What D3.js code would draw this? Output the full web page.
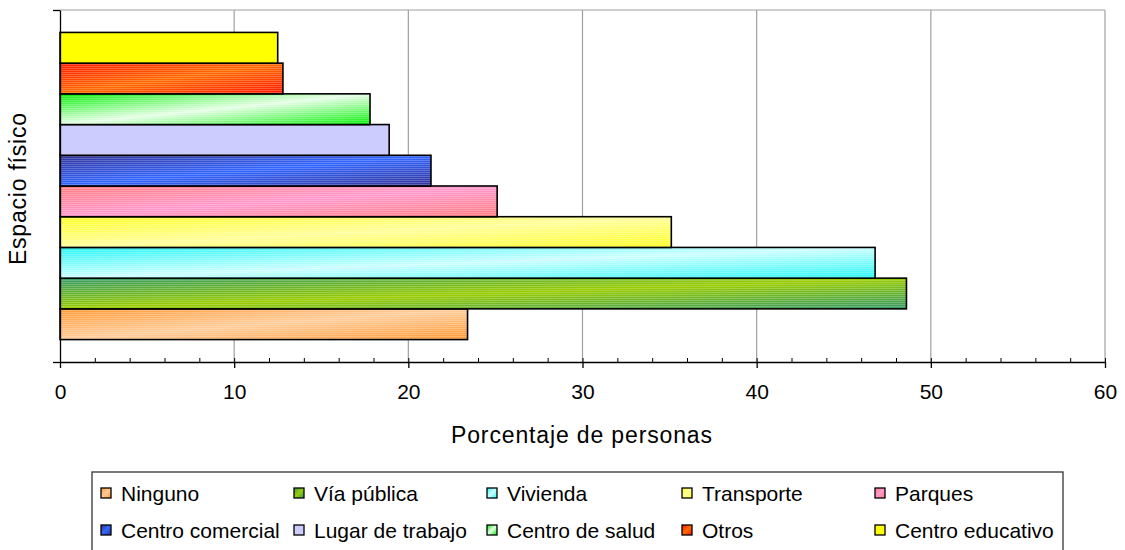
<!DOCTYPE html>
<html>
<head>
<meta charset="utf-8">
<script src="https://cdn.jsdelivr.net/npm/d3@7/dist/d3.min.js"></script>
<style>
  body { margin: 0; background: #fff; }
  text { font-family: "Liberation Sans", Arial, sans-serif; fill: #000; }
  .axis path, .axis line { stroke: #000; }
</style>
</head>
<body>
<div id="ChartContainer"></div>
<script>
// Series, bottom to top
var series = ["Ninguno", "Vía pública", "Vivienda", "Transporte", "Parques",
  "Centro comercial", "Lugar de trabajo", "Centro de salud", "Otros", "Centro educativo"]
var values = [23.4, 48.6, 46.8, 35.1, 25.1, 21.3, 18.9, 17.8, 12.8, 12.5]
var xTicks = [0, 10, 20, 30, 40, 50, 60]
var xMinorTicks = d3.range(0, 61, 2)

// fill colours: [edge, centre] of the diagonal gradient
var fills = [
  ["#FF9933", "#FFCC99"],
  ["#339966", "#99CC00"],
  ["#22F5F5", "#CCFFFF"],
  ["#FFFF22", "#FFFF99"],
  ["#FF7C80", "#FF99CC"],
  ["#333399", "#3366FF"],
  ["#CCCCFF", "#CCCCFF"],
  ["#00F000", "#E6FFE6"],
  ["#FF1A00", "#FF6A00"],
  ["#FFFF00", "#FFFF00"],
]
var striped = [true, true, true, true, true, true, false, true, true, false]

var fullWidth = 1125
var fullHeight = 550
var margin = { top: 10, right: 20, bottom: 188, left: 60 }
var width = fullWidth - margin.left - margin.right
var height = fullHeight - margin.top - margin.bottom

var svg = d3.select("#ChartContainer").append("svg")
  .attr("width", fullWidth)
  .attr("height", fullHeight)

var defs = svg.append("defs")

fills.forEach(function (f, i) {
  var grad = defs.append("linearGradient")
    .attr("id", "grad" + i)
    .attr("x1", 0).attr("y1", 0)
    .attr("x2", 1).attr("y2", 1)
  grad.append("stop").attr("offset", "0%").attr("stop-color", f[0])
  grad.append("stop").attr("offset", "50%").attr("stop-color", f[1])
  grad.append("stop").attr("offset", "100%").attr("stop-color", f[0])
})

// fine horizontal stripes
var stripes = defs.append("pattern")
  .attr("id", "stripes")
  .attr("patternUnits", "userSpaceOnUse")
  .attr("width", 8)
  .attr("height", 2)
stripes.append("rect")
  .attr("width", 8)
  .attr("height", 1)
  .attr("fill", "#fff")
  .attr("opacity", 0.22)

var x = d3.scaleLinear()
  .domain([0, 60])
  .range([0, width])

var y = d3.scaleBand()
  .domain(series)
  .range([height, 0])
  .paddingInner(0)
  .paddingOuter(0.73)

var g = svg.append("g")
  .attr("transform", `translate(${margin.left},${margin.top})`)

// gridlines and frame
g.selectAll(".Grid")
  .data(xTicks.slice(1))
  .enter().append("line")
  .attr("class", "Grid")
  .attr("x1", d => x(d))
  .attr("x2", d => x(d))
  .attr("y1", 0)
  .attr("y2", height)
  .attr("stroke", "#a0a0a0")
  .attr("stroke-width", 1.2)
g.append("line")
  .attr("x1", 0)
  .attr("x2", width)
  .attr("y1", 0)
  .attr("y2", 0)
  .attr("stroke", "#a0a0a0")
  .attr("stroke-width", 1.2)

// bars
var bars = g.selectAll(".Bar")
  .data(series)
  .enter().append("g")
  .attr("class", "Bar")

bars.append("rect")
  .attr("x", 0)
  .attr("y", d => y(d))
  .attr("width", (d, i) => x(values[i]))
  .attr("height", y.bandwidth())
  .attr("fill", (d, i) => "url(#grad" + i + ")")

bars.filter((d, i) => striped[i]).append("rect")
  .attr("x", 0)
  .attr("y", d => y(d))
  .attr("width", d => x(values[series.indexOf(d)]))
  .attr("height", y.bandwidth())
  .attr("fill", "url(#stripes)")

bars.append("rect")
  .attr("x", 0)
  .attr("y", d => y(d))
  .attr("width", (d, i) => x(values[i]))
  .attr("height", y.bandwidth())
  .attr("fill", "none")
  .attr("stroke", "#000")
  .attr("stroke-width", 1.6)

// x-axis minor ticks (pointing up)
g.append("g")
  .attr("class", "axis")
  .attr("transform", "translate(0," + height + ")")
  .call(d3.axisBottom(x)
    .tickValues(xMinorTicks)
    .tickSize(-4)
    .tickSizeOuter(0)
    .tickFormat("")
  )

// x-axis
var xAxis = g.append("g")
  .attr("class", "axis")
  .attr("transform", "translate(0," + height + ")")
  .call(d3.axisBottom(x)
    .tickValues(xTicks)
    .tickSize(6)
    .tickSizeOuter(0)
    .tickPadding(16)
  )
xAxis.selectAll("path, line").attr("stroke-width", 1.3)
xAxis.selectAll("text")
  .attr("font-size", "21px")
  .attr("font-family", "'Liberation Sans', Arial, sans-serif")

// y-axis (category axis, no labels)
var yAxis = g.append("g")
  .attr("class", "axis")
  .call(d3.axisLeft(d3.scaleLinear().domain([0, 1]).range([height, 0]))
    .tickValues([0, 1])
    .tickSize(7)
    .tickSizeOuter(0)
    .tickFormat("")
  )
yAxis.selectAll("path, line").attr("stroke-width", 1.3)

// x-axis label
g.append("text")
  .attr("x", 451 - margin.left)
  .attr("y", 443 - margin.top)
  .attr("font-size", "23px")
  .attr("textLength", 261)
  .attr("lengthAdjust", "spacing")
  .text("Porcentaje de personas")

// y-axis label
svg.append("text")
  .attr("transform", "translate(26,265) rotate(-90)")
  .attr("font-size", "23px")
  .attr("textLength", 152)
  .attr("lengthAdjust", "spacing")
  .text("Espacio físico")

// Legend
var legend = svg.append("g")
  .attr("transform", "translate(92,472)")

legend.append("rect")
  .attr("x", 0)
  .attr("y", 0)
  .attr("width", 971)
  .attr("height", 90)
  .attr("fill", "#fff")
  .attr("stroke", "#333")
  .attr("stroke-width", 1.3)

var colX = [9, 202, 395, 590, 783]
var rowY = [21, 58]

var items = legend.selectAll(".LegendItem")
  .data(series)
  .enter().append("g")
  .attr("class", "LegendItem")
  .attr("transform", (d, i) => `translate(${colX[i % 5]},${rowY[Math.floor(i / 5)]})`)

items.append("rect")
  .attr("x", 0)
  .attr("y", -5)
  .attr("width", 10)
  .attr("height", 10)
  .attr("fill", (d, i) => "url(#grad" + i + ")")
  .attr("stroke", "#000")
  .attr("stroke-width", 1.3)

items.append("text")
  .attr("x", 20)
  .attr("y", 0)
  .attr("dy", "0.36em")
  .attr("font-size", "21px")
  .text(d => d)
</script>
</body>
</html>
